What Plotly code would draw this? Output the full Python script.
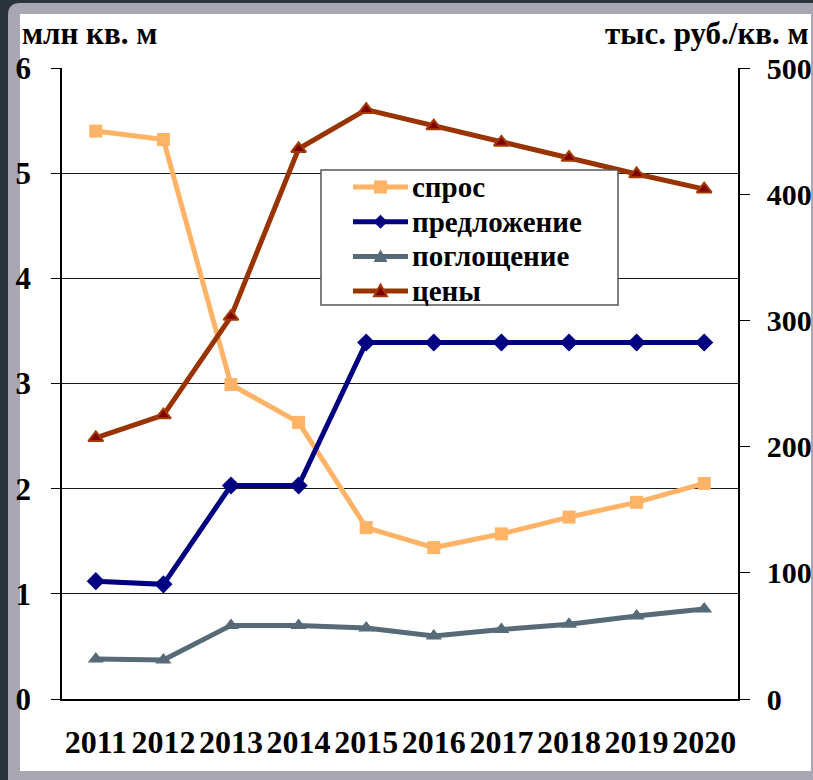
import plotly.graph_objects as go

# --- data -------------------------------------------------------------
years = [2011, 2012, 2013, 2014, 2015, 2016, 2017, 2018, 2019, 2020]
demand = [5.40, 5.32, 2.99, 2.63, 1.63, 1.44, 1.57, 1.73, 1.87, 2.05]       # спрос, млн кв. м
supply = [1.12, 1.09, 2.03, 2.03, 3.39, 3.39, 3.39, 3.39, 3.39, 3.39]       # предложение
absorption = [0.38, 0.37, 0.70, 0.70, 0.675, 0.60, 0.66, 0.71, 0.79, 0.855]  # поглощение
prices = [207, 225, 303, 436, 467, 454, 441, 429, 416, 404]                # цены, тыс. руб./кв. м
left_ticks = [0, 1, 2, 3, 4, 5, 6]
right_ticks = [0, 100, 200, 300, 400, 500]
series_names = ["спрос", "предложение", "поглощение", "цены"]

# --- page geometry (pixels) ------------------------------------------
W, H = 813, 780
L, R, T, B = 62, 738, 68, 699          # plot area edges


def px(x):
    return (x - L) / (R - L)


def py(y):
    return (B - y) / (B - T)


def bold(v):
    return f"<b>{v}</b>"


FONT = "Liberation Serif"
BLACK = "#000000"

styles = [
    dict(color="#FFB366", symbol="square", size=13, edge="#FFB366", mcolor="#FFB366"),
    dict(color="#000080", symbol="diamond", size=14, edge="#000080", mcolor="#000080"),
    dict(color="#566A78", symbol="triangle-up", size=14, edge="#566A78", mcolor="#566A78"),
    dict(color="#993300", symbol="triangle-up", size=13, edge="#A33A08", mcolor="#800000"),
]
series = [demand, supply, absorption, prices]

fig = go.Figure()
for name, vals, st, axis in zip(series_names, series, styles, ["y", "y", "y", "y2"]):
    fig.add_trace(go.Scatter(
        x=years, y=vals, name=name, mode="lines+markers", yaxis=axis,
        line=dict(color=st["color"], width=5),
        marker=dict(symbol=st["symbol"], size=st["size"], color=st["mcolor"],
                    line=dict(color=st["edge"], width=2 if axis == "y2" else 0)),
        showlegend=False,
    ))

x_lo, x_hi = years[0] - 0.5, years[-1] + 0.5
boundaries = [y - 0.5 for y in years] + [years[-1] + 0.5]

fig.update_layout(
    width=W, height=H,
    margin=dict(l=L, r=W - R, t=T, b=H - B),
    paper_bgcolor="#2B333D",
    plot_bgcolor="#FFFFFF",
    showlegend=False,
    xaxis=dict(
        range=[x_lo, x_hi], tickvals=years, ticktext=[bold(y) for y in years],
        ticks="", showgrid=False, zeroline=False, tickangle=0, automargin=False,
        showline=True, linecolor=BLACK, linewidth=1.5,
        tickfont=dict(family=FONT, size=32, color=BLACK),
        ticklabelstandoff=14,
    ),
    # boundary tick marks below the axis line
    xaxis2=dict(
        overlaying="x", anchor="y", side="bottom", range=[x_lo, x_hi],
        tickvals=boundaries, ticks="outside", ticklen=10, tickcolor=BLACK,
        showticklabels=False, showgrid=False, zeroline=False, showline=False,
        automargin=False,
    ),
    # boundary tick marks above the axis line
    xaxis3=dict(
        overlaying="x", anchor="y", side="bottom", range=[x_lo, x_hi],
        tickvals=boundaries, ticks="inside", ticklen=10, tickcolor=BLACK,
        showticklabels=False, showgrid=False, zeroline=False, showline=False,
        automargin=False,
    ),
    yaxis=dict(
        range=[0, 6], tickvals=left_ticks, ticktext=[bold(v) for v in left_ticks],
        ticks="outside", ticklen=9, automargin=False,
        tickcolor=BLACK, showgrid=True, gridcolor="#1A1A1A", gridwidth=1,
        zeroline=False, showline=True, linecolor=BLACK, linewidth=1.5,
        tickfont=dict(family=FONT, size=31, color=BLACK), ticklabelstandoff=14,
    ),
    yaxis2=dict(
        overlaying="y", side="right", anchor="x", range=[0, 500],
        tickvals=right_ticks, ticktext=[bold(v) for v in right_ticks],
        ticks="outside", ticklen=10, tickcolor=BLACK, automargin=False,
        showgrid=False, zeroline=False, showline=True, linecolor=BLACK,
        linewidth=1.5, tickfont=dict(family=FONT, size=30, color=BLACK),
        ticklabelstandoff=11,
    ),
    yaxis3=dict(
        overlaying="y", side="right", anchor="x", range=[0, 500],
        tickvals=right_ticks, ticks="inside", ticklen=9, tickcolor=BLACK,
        showticklabels=False, showgrid=False, zeroline=False, showline=False,
        automargin=False,
    ),
)

# frame: grey rounded border and white panel behind the chart
r = 12
frame = (f"M {px(8)},{py(3 + r)} Q {px(8)},{py(3)} {px(8 + r)},{py(3)} "
         f"L {px(830)},{py(3)} L {px(830)},{py(795)} L {px(8)},{py(795)} Z")
fig.add_shape(type="path", path=frame, xref="paper", yref="paper",
              fillcolor="#A9A7B3", line=dict(width=0), layer="below")
fig.add_shape(type="rect", xref="paper", yref="paper",
              x0=px(20), x1=px(811), y0=py(14), y1=py(771),
              fillcolor="#FFFFFF", line=dict(width=0), layer="below")
# right and bottom grey edges sit on top of the panel contents
fig.add_shape(type="rect", xref="paper", yref="paper",
              x0=px(811), x1=px(830), y0=py(3), y1=py(795),
              fillcolor="#A9A7B3", line=dict(width=0), layer="above")
fig.add_shape(type="rect", xref="paper", yref="paper",
              x0=px(20), x1=px(811), y0=py(771), y1=py(795),
              fillcolor="#A9A7B3", line=dict(width=0), layer="above")

# legend box with long line samples
LG_L, LG_R, LG_T, LG_B = 321, 618, 170, 305
fig.add_shape(type="rect", xref="paper", yref="paper",
              x0=px(LG_L), x1=px(LG_R), y0=py(LG_T), y1=py(LG_B),
              fillcolor="#FFFFFF", line=dict(color="#555555", width=1.5),
              layer="above")
row0, row_step = 187, 34.7
for i, (name, st) in enumerate(zip(series_names, styles)):
    yc = row0 + i * row_step
    fig.add_shape(type="line", xref="paper", yref="paper",
                  x0=px(353), x1=px(408), y0=py(yc), y1=py(yc),
                  line=dict(color=st["color"], width=5), layer="above")
    cx, h = 380.5, st["size"] / 2
    if st["symbol"] == "square":
        path = (f"M {px(cx - h)},{py(yc - h)} L {px(cx + h)},{py(yc - h)} "
                f"L {px(cx + h)},{py(yc + h)} L {px(cx - h)},{py(yc + h)} Z")
    elif st["symbol"] == "diamond":
        path = (f"M {px(cx)},{py(yc - h)} L {px(cx + h)},{py(yc)} "
                f"L {px(cx)},{py(yc + h)} L {px(cx - h)},{py(yc)} Z")
    else:
        path = (f"M {px(cx)},{py(yc - h)} L {px(cx + h)},{py(yc + h * 0.8)} "
                f"L {px(cx - h)},{py(yc + h * 0.8)} Z")
    fig.add_shape(type="path", path=path, xref="paper", yref="paper",
                  fillcolor=st["mcolor"],
                  line=dict(color=st["edge"], width=2 if i == 3 else 0),
                  layer="above")
    fig.add_annotation(text=bold(name), xref="paper", yref="paper",
                       x=px(410), y=py(yc), xanchor="left", yanchor="middle",
                       showarrow=False,
                       font=dict(family=FONT, size=29, color=BLACK))

title_font = dict(family=FONT, size=31, color=BLACK)
fig.add_annotation(text=bold("млн кв. м"), xref="paper", yref="paper",
                   x=px(20), y=py(33), xanchor="left", yanchor="middle",
                   showarrow=False, font=title_font)
fig.add_annotation(text=bold("тыс. руб./кв. м"), xref="paper", yref="paper",
                   x=px(811), y=py(33), xanchor="right", yanchor="middle",
                   showarrow=False, font=title_font)

fig.write_html("out.html")
